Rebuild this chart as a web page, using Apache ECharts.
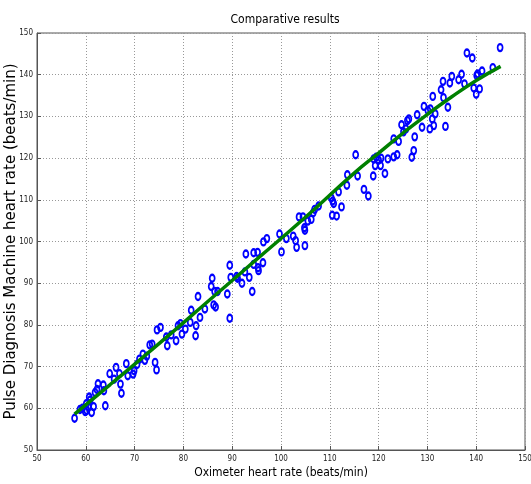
<!DOCTYPE html>
<html>
<head>
<meta charset="utf-8">
<script src="https://cdn.jsdelivr.net/npm/echarts@6/dist/echarts.min.js"></script>
<style>
  html, body { margin: 0; padding: 0; background: #fff; }
  #chart { width: 531px; height: 484px; }
</style>
</head>
<body>
<div id="chart"></div>
<script>
// measured pairs: [oximeter, pulse diagnosis machine]
var points = [
  [57.7,57.6],[58.8,59.7],[59.3,60.0],[59.9,59.2],[60.2,59.5],[60.1,61.1],[60.5,60.3],[60.7,62.7],[60.9,62.0],[61.2,59.0],
  [61.6,60.4],[61.9,63.8],[62.3,64.5],[62.5,65.9],[63.6,65.6],[63.7,64.2],[64.0,60.6],[64.9,68.3],[65.8,67.0],[66.2,69.8],
  [66.9,68.3],[67.1,65.8],[67.3,63.6],[68.3,70.7],[68.6,67.8],[69.7,68.2],[69.9,69.0],[70.5,70.5],[71.0,71.8],[71.7,73.0],
  [72.1,71.5],[72.5,72.5],[73.1,75.2],[73.6,75.4],[74.2,71.0],[74.5,69.2],[74.6,78.8],[75.3,79.4],[76.5,77.1],[76.7,75.0],
  [77.5,77.6],[78.5,76.2],[78.9,79.8],[79.4,80.3],[79.7,77.8],[80.4,79.0],[81.4,80.6],[81.6,83.5],[82.5,77.4],[82.6,79.8],
  [83.4,81.8],[84.4,83.8],[86.2,84.8],[86.6,84.3],[89.5,81.6],
  [83.0,86.8],[85.7,89.2],[85.9,91.2],[86.4,88.0],[87.0,88.0],[89.0,87.4],[89.5,94.3],[89.7,91.4],[90.9,91.6],[91.1,91.2],
  [92.0,90.0],[92.6,92.7],[92.8,97.0],[93.5,91.4],[94.1,88.0],[94.4,97.3],[95.2,97.4],[94.4,94.5],[95.3,93.7],[95.4,93.0],
  [96.3,94.9],[96.4,99.9],[97.1,100.7],[99.7,101.8],[100.1,97.5],[101.1,100.7],[102.5,101.3],[103.0,100.2],[103.2,98.6],[103.7,105.9],
  [104.5,105.9],[104.8,103.3],[104.9,102.7],[104.9,99.0],[105.5,104.9],[106.2,105.3],[106.6,106.9],[106.9,107.7],[107.7,108.5],[110.3,110.5],
  [110.6,109.7],[110.5,106.3],[111.4,106.1],[110.8,109.1],[111.8,111.9],[112.4,108.3],[113.5,113.5],[113.6,116.0],[115.3,120.8],[115.7,115.7],
  [117.0,112.5],[117.9,110.9],
  [118.9,115.7],[119.3,118.2],[119.0,119.8],[119.5,120.2],[120.0,119.5],[120.5,120.0],[120.4,118.2],[121.3,116.3],[121.9,119.8],[123.1,120.3],
  [123.8,120.8],[123.1,124.6],[124.1,124.0],[124.7,128.0],[125.1,126.3],[125.6,127.0],[125.9,129.0],[126.2,129.4],[126.8,120.2],[127.4,125.1],
  [127.2,121.8],[127.9,130.4],[128.9,127.4],[129.3,132.4],[130.1,131.4],[130.6,131.8],[130.5,127.0],[131.1,134.8],[131.0,129.4],[131.3,127.8],
  [131.6,130.6],[132.8,136.4],[133.2,138.4],[133.3,134.5],[133.7,127.6],[134.2,132.2],[134.6,138.0],[135.0,139.6],[136.4,138.8],[137.0,140.1],
  [137.6,137.8],[138.1,145.2],[139.2,144.0],[139.5,136.8],[140.0,135.3],[140.1,139.8],[140.3,140.2],[140.7,136.6],[141.2,140.9],[143.4,141.7],
  [144.9,146.5]
];

// fitted curve samples
var fitX = [57.7, 65, 75, 85, 95, 105, 115, 120, 125, 130, 135, 140, 145];
var fitY = [58.6, 65.7, 75.5, 85.6, 95.7, 105.8, 116.4, 121.2, 126.0, 130.5, 134.7, 138.6, 142.0];

var axisTicks = [50, 60, 70, 80, 90, 100, 110, 120, 130, 140, 150];

var fitData = [];
for (var i = 0; i < fitX.length; i++) {
  fitData.push([fitX[i], fitY[i]]);
}

var narrow = '"Liberation Sans Narrow", "Arial Narrow", "DejaVu Sans Condensed", sans-serif';

var chart = echarts.init(document.getElementById('chart'), null, { renderer: 'canvas' });
var option = {
  backgroundColor: '#fff',
  animation: false,
  title: {
    text: 'Comparative results',
    left: 280,
    top: 9,
    textAlign: 'center',
    textStyle: { color: '#000', fontWeight: 'normal', fontSize: 12, fontFamily: narrow }
  },
  grid: {
    left: 37, right: 6, top: 33, bottom: 34,
    outerBoundsMode: 'none',
    containLabel: false,
    show: true,
    borderColor: '#555',
    borderWidth: 1
  },
  xAxis: {
    type: 'value',
    min: axisTicks[0],
    max: axisTicks[axisTicks.length - 1],
    interval: 10,
    name: 'Oximeter heart rate (beats/min)',
    nameLocation: 'middle',
    nameGap: 17,
    nameMoveOverlap: false,
    nameTextStyle: { color: '#000', fontSize: 12, fontFamily: narrow, verticalAlign: 'top' },
    axisLine: { show: true, lineStyle: { color: '#555', width: 1 } },
    axisTick: { show: true, inside: true, length: 4, lineStyle: { color: '#555' } },
    axisLabel: { color: '#222', fontSize: 8, fontFamily: narrow, margin: 5 },
    splitLine: { show: true, lineStyle: { color: '#999', type: [1, 2], width: 1 } }
  },
  yAxis: {
    type: 'value',
    min: axisTicks[0],
    max: axisTicks[axisTicks.length - 1],
    interval: 10,
    name: 'Pulse Diagnosis Machine heart rate (beats/min)',
    nameLocation: 'middle',
    nameGap: 18,
    nameMoveOverlap: false,
    nameTextStyle: { color: '#000', fontSize: 15, fontFamily: '"DejaVu Sans", sans-serif' },
    axisLine: { show: true, lineStyle: { color: '#555', width: 1 } },
    axisTick: { show: true, inside: true, length: 4, lineStyle: { color: '#555' } },
    axisLabel: { color: '#222', fontSize: 8, fontFamily: narrow, margin: 4 },
    splitLine: { show: true, lineStyle: { color: '#999', type: [1, 2], width: 1 } }
  },
  series: [
    {
      name: 'measured',
      type: 'scatter',
      data: points,
      symbol: 'circle',
      symbolSize: [5, 7],
      itemStyle: { color: 'rgba(0,0,0,0)', borderColor: '#0000ff', borderWidth: 2, opacity: 1 },
      z: 2
    },
    {
      name: 'fit',
      type: 'line',
      data: fitData,
      smooth: true,
      showSymbol: false,
      symbol: 'none',
      lineStyle: { color: '#008000', width: 3.5 },
      z: 3
    }
  ]
};
chart.setOption(option);
</script>
</body>
</html>
